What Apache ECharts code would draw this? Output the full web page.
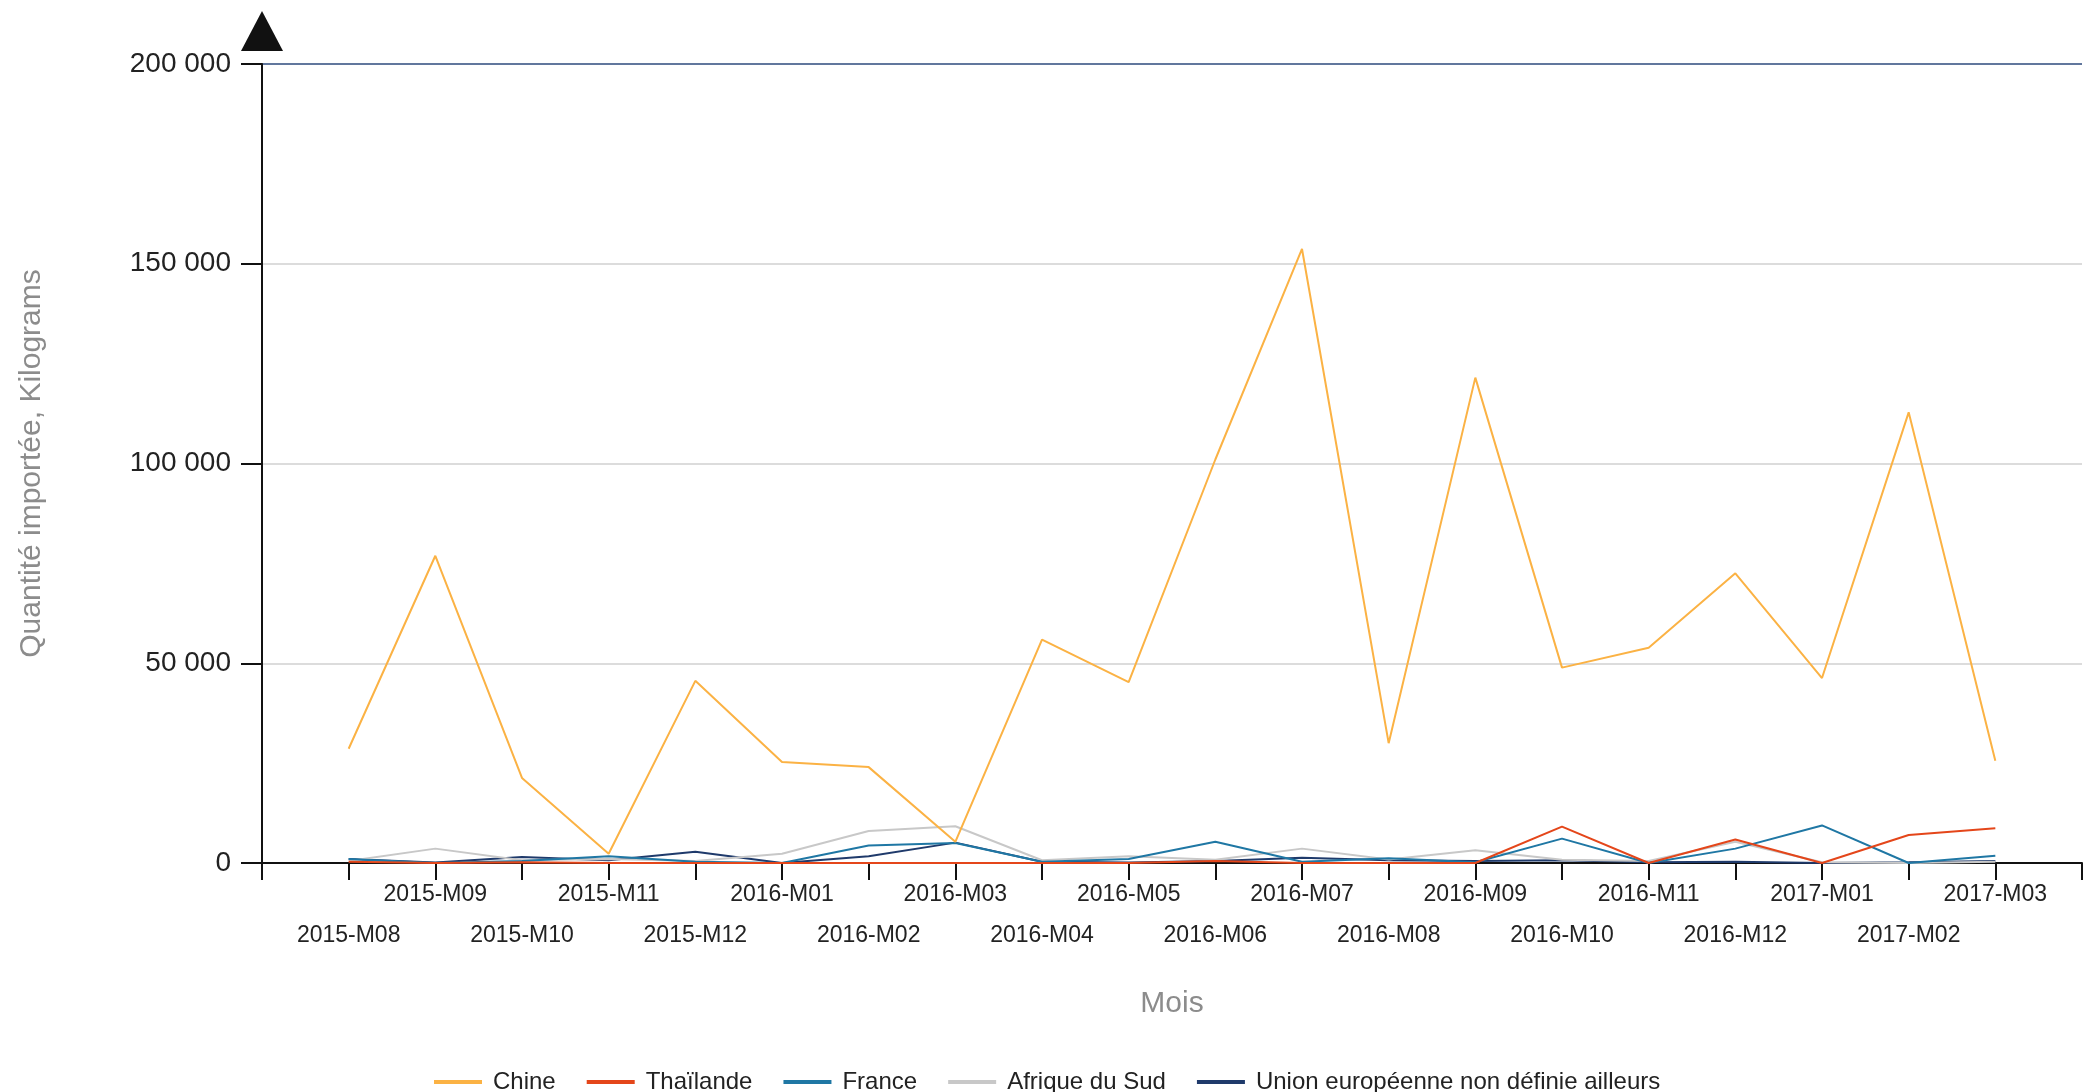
<!DOCTYPE html>
<html>
<head>
<meta charset="utf-8">
<script src="https://cdn.jsdelivr.net/npm/echarts@6/dist/echarts.min.js"></script>
<style>
    html, body {margin: 0; padding: 0; background: #fff;}
    #main {width: 2085px; height: 1092px;}
</style>
</head>
<body>
<div id="main"></div>
<script>
var months = ['2015-M08', '2015-M09', '2015-M10', '2015-M11', '2015-M12', '2016-M01', '2016-M02', '2016-M03',
    '2016-M04', '2016-M05', '2016-M06', '2016-M07', '2016-M08', '2016-M09', '2016-M10', '2016-M11',
    '2016-M12', '2017-M01', '2017-M02', '2017-M03'];

var chine = [28600, 76900, 21300, 2300, 45600, 25300, 24000, 5300, 55900, 45300,
    101000, 153700, 30000, 121500, 48900, 53900, 72500, 46300, 112800, 25600];
var thailande = [300, 0, 200, 0, 0, 0, 0, 0, 0, 0,
    500, 0, 0, 0, 9100, 0, 5900, 0, 7000, 8700];
var france = [1000, 0, 500, 1700, 300, 0, 4400, 5000, 300, 1000,
    5300, 300, 1200, 200, 6100, 0, 3600, 9400, 0, 1800];
var afrique = [500, 3600, 700, 1000, 500, 2300, 8000, 9200, 700, 1700,
    800, 3600, 900, 3200, 800, 500, 5300, 200, 0, 300];
var ue = [1000, 100, 1500, 700, 2800, 0, 1700, 5100, 300, 100,
    500, 1300, 700, 500, 700, 200, 300, 0, 200, 500];

var yTicks = [0, 50000, 100000, 150000, 200000];

var colChine = '#fbb244';
var colThai = '#e4461a';
var colFrance = '#1f77a4';
var colAfrique = '#c8c8c8';
var colUe = '#1f3a6b';

// blank slot on both sides so the axis starts one step before the first month
var xCats = [''].concat(months, ['']);
var pad = function (arr) {
    return [null].concat(arr);
};

var font = 'Liberation Sans, Arial, sans-serif';

var mk = function (name, data, color) {
    return {
        name: name,
        type: 'line',
        data: pad(data),
        showSymbol: false,
        symbol: 'none',
        color: color,
        itemStyle: {color: color},
        lineStyle: {width: 2, color: color},
        emphasis: {disabled: true}
    };
};

var option = {
    animation: false,
    textStyle: {fontFamily: font},
    grid: {
        left: 262,
        right: -6,
        top: 64,
        bottom: 229,
        containLabel: false
    },
    legend: {
        left: 429,
        top: 1065,
        itemWidth: 48,
        itemHeight: 4,
        itemGap: 31,
        icon: 'rect',
        textStyle: {fontSize: 24, color: '#222', padding: [0, 0, 0, 6], fontFamily: font},
        data: ['Chine', 'Thaïlande', 'France', 'Afrique du Sud', 'Union européenne non définie ailleurs']
    },
    xAxis: {
        type: 'category',
        boundaryGap: false,
        data: xCats,
        name: 'Mois',
        nameLocation: 'middle',
        nameGap: 126,
        nameTextStyle: {fontSize: 30, color: '#8c8c8c', fontFamily: font},
        axisLine: {lineStyle: {color: '#111', width: 2}},
        axisTick: {show: true, length: 17, interval: 0, lineStyle: {color: '#111', width: 2}},
        axisLabel: {
            interval: 0,
            margin: 11,
            fontSize: 23,
            lineHeight: 41,
            color: '#222',
            fontFamily: font,
            formatter: function (v, idx) {
                if (!v) return '';
                return (idx - 1) % 2 === 0 ? '\n' + v : v;
            }
        },
        splitLine: {show: false}
    },
    yAxis: {
        type: 'value',
        min: yTicks[0],
        max: yTicks[yTicks.length - 1],
        interval: yTicks[1] - yTicks[0],
        name: 'Quantité importée, Kilograms',
        nameLocation: 'middle',
        nameRotate: 90,
        nameGap: 215,
        nameTextStyle: {fontSize: 30, color: '#8c8c8c', fontFamily: font},
        axisLine: {
            show: true,
            symbol: ['none', 'triangle'],
            symbolSize: [42, 40],
            symbolOffset: [0, 33],
            lineStyle: {color: '#111', width: 2}
        },
        axisTick: {show: true, length: 21, lineStyle: {color: '#111', width: 2}},
        axisLabel: {
            margin: 31,
            fontSize: 28,
            color: '#222',
            fontFamily: font,
            formatter: function (v) {
                return String(v).replace(/\B(?=(\d{3})+(?!\d))/g, ' ');
            }
        },
        splitLine: {
            show: true,
            lineStyle: {color: ['#d0d0d0', '#d0d0d0', '#d0d0d0', '#d0d0d0', '#2c4a7c'], width: 1.5}
        }
    },
    series: [
        mk('Union européenne non définie ailleurs', ue, colUe),
        mk('Afrique du Sud', afrique, colAfrique),
        mk('France', france, colFrance),
        mk('Thaïlande', thailande, colThai),
        mk('Chine', chine, colChine)
    ]
};

var myChart = echarts.init(document.getElementById('main'));
myChart.setOption(option);
</script>
</body>
</html>
